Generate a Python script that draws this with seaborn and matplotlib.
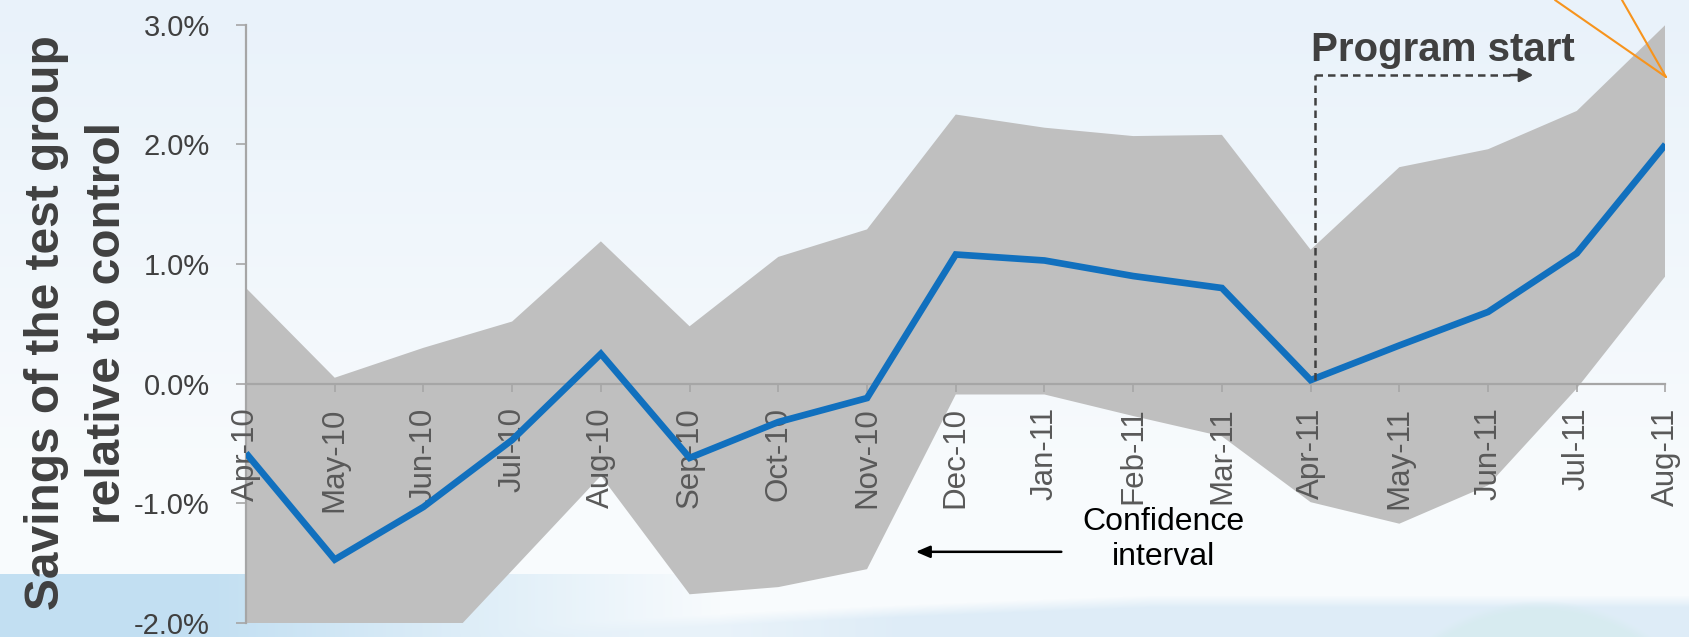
import numpy as np
import pandas as pd
import matplotlib
matplotlib.use("Agg")
import matplotlib.pyplot as plt
from matplotlib.lines import Line2D
import seaborn as sns

# ---------------- data ----------------
months = ["Apr-10", "May-10", "Jun-10", "Jul-10", "Aug-10", "Sep-10", "Oct-10",
          "Nov-10", "Dec-10", "Jan-11", "Feb-11", "Mar-11", "Apr-11", "May-11",
          "Jun-11", "Jul-11", "Aug-11"]
savings = [-0.58, -1.47, -1.03, -0.47, 0.25, -0.62, -0.32, -0.12, 1.08, 1.03,
           0.90, 0.80, 0.03, 0.32, 0.60, 1.09, 2.00]
ci_upper = [0.80, 0.05, 0.30, 0.52, 1.19, 0.48, 1.06, 1.29, 2.25, 2.14,
            2.07, 2.08, 1.12, 1.81, 1.96, 2.28, 3.00]
ci_lower = [-2.30, -2.50, -2.35, -1.56, -0.77, -1.76, -1.70, -1.55, -0.09, -0.09,
            -0.27, -0.44, -0.99, -1.17, -0.85, -0.04, 0.90]
y_ticks = [-2, -1, 0, 1, 2, 3]
y_tick_labels = ["-2.0%", "-1.0%", "0.0%", "1.0%", "2.0%", "3.0%"]
program_start = "Apr-11"

# ---------------- style ----------------
sns.set_theme(style="white")
plt.rcParams["font.family"] = ["Liberation Sans", "DejaVu Sans"]

W, H = 1690, 637
fig = plt.figure(figsize=(W / 100, H / 100), dpi=100)

# ---------------- slide-like background ----------------
yy, xx = np.mgrid[0:H, 0:W].astype(float)
top_c = np.array([233, 242, 250], float)
mid_c = np.array([248, 251, 253], float)
t = np.clip(yy / 480.0, 0, 1)[..., None]
img = top_c * (1 - t) + mid_c * t
# left blue band
band_c = np.array([194, 223, 242], float)
w = (np.clip((720 - xx) / 520.0, 0, 1) * (yy >= 574))[..., None]
img = img * (1 - w) + band_c * w
# bottom swoosh (soft edge)
yc = 637 - 42 * np.clip((xx - 450) / 700.0, 0, 1) ** 0.6
edge = np.clip((yy - yc) / 12.0, 0, 1)
sw_c = np.array([218, 234, 246], float)
w2 = (edge * np.clip((xx - 450) / 450.0, 0, 1) * 0.85)[..., None]
img = img * (1 - w2) + sw_c * w2
# circle at bottom right
d = np.sqrt((xx - 1540) ** 2 + (yy - 790) ** 2)
circ = np.clip((190 - d) / 10.0, 0, 1)
circ_c = np.array([214, 235, 239], float)
w3 = (circ * 0.85)[..., None]
img = img * (1 - w3) + circ_c * w3

bg = fig.add_axes([0, 0, 1, 1], zorder=0)
bg.imshow(img.astype(np.uint8), aspect="auto", interpolation="bilinear")
bg.set_axis_off()

# ---------------- main axes ----------------
ax = fig.add_axes([246 / W, 1 - 623 / H, (1665.5 - 246) / W, (623 - 24.8) / H], zorder=1)
ax.patch.set_alpha(0)
ax.set_axisbelow(False)

x = np.arange(len(months))
df = pd.DataFrame({"idx": x, "savings": savings, "lo": ci_lower, "hi": ci_upper})

ax.fill_between(df["idx"], df["lo"], df["hi"], color="#BFBFBF", lw=0, zorder=1)
sns.lineplot(data=df, x="idx", y="savings", ax=ax, color="#1170BE", lw=4.8,
             zorder=3, solid_joinstyle="miter", solid_capstyle="butt")

ax.set_xlim(0, len(months) - 1)
ax.set_ylim(-2, 3)
ax.set_yticks(y_ticks)
ax.set_yticklabels(y_tick_labels)
ax.set_xticks(x)
ax.set_xticklabels(months)
ax.set_xlabel("")
ax.set_ylabel("")

for s in ["top", "right"]:
    ax.spines[s].set_visible(False)
for s in ["left", "bottom"]:
    ax.spines[s].set_visible(True)
    ax.spines[s].set_color("#A6A6A6")
    ax.spines[s].set_linewidth(1.6)
    ax.spines[s].set_zorder(2.5)
ax.spines["bottom"].set_position(("data", 0))

ax.tick_params(axis="x", direction="out", length=6, width=1.2, color="#A6A6A6",
               pad=11, labelsize=22.5, labelcolor="#595959", bottom=True,
               labelrotation=90)
ax.tick_params(axis="y", direction="out", length=7, width=1.2, color="#A6A6A6",
               pad=19, labelsize=21, labelcolor="#404040", left=True)
for lab in ax.get_xticklabels():
    lab.set_verticalalignment("top")
    lab.set_horizontalalignment("center")
ax.grid(False)

# ---------------- y label ----------------
fig.text(77 / W, 1 - 323 / H, "Savings of the test group\nrelative to control",
         rotation=90, ha="center", va="center", multialignment="center",
         fontsize=34.5, fontweight="bold", color="#404040", linespacing=1.45)

# ---------------- program start annotation ----------------
ps = months.index(program_start)
arrow_y = 2.58
dash_col = "#404040"
ax.plot([ps + 0.05, ps + 0.05], [savings[ps], arrow_y], ls=(0, (3, 2)),
        color=dash_col, lw=1.8, zorder=4, clip_on=False)
ax.plot([ps + 0.05, ps + 2.3], [arrow_y, arrow_y], ls=(0, (3, 2)),
        color=dash_col, lw=1.8, zorder=4, clip_on=False)
ax.annotate("", xy=(ps + 2.51, arrow_y), xytext=(ps + 2.25, arrow_y),
            arrowprops=dict(arrowstyle="-|>,head_length=0.7,head_width=0.35",
                            color=dash_col, lw=1.8, shrinkA=0, shrinkB=0),
            zorder=4, annotation_clip=False)
ax.text(ps, 2.70, "Program start", ha="left", va="baseline", fontsize=29,
        fontweight="bold", color="#404040", zorder=5, clip_on=False)

# ---------------- confidence interval annotation ----------------
ax.annotate("", xy=(7.55, -1.405), xytext=(9.19, -1.405),
            arrowprops=dict(arrowstyle="-|>,head_length=0.7,head_width=0.3",
                            color="black", lw=1.8, shrinkA=0, shrinkB=0),
            zorder=5, annotation_clip=False)
ax.text(10.34, -1.30, "Confidence\ninterval", ha="center", va="center",
        multialignment="center", fontsize=23, color="black", linespacing=1.2,
        zorder=5)

# ---------------- orange callout lines ----------------
for x0 in (1555, 1622):
    fig.add_artist(Line2D([x0 / W, 1666 / W], [1.0, 1 - 77 / H],
                          transform=fig.transFigure, color="#F7941D", lw=1.5,
                          zorder=6))

fig.savefig("out.png", dpi=100)
